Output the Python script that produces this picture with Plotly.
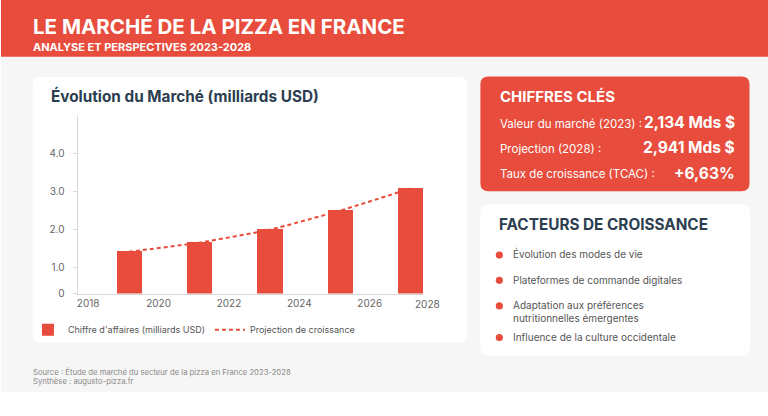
import plotly.graph_objects as go

W, H = 768, 416

# ---------------- data ----------------
years = [2019, 2021, 2023, 2025, 2027]
revenue = [1.42, 1.66, 2.00, 2.50, 3.08]
projection = [1.42, 1.66, 2.00, 2.50, 3.08]
x_tick_years = [2018, 2020, 2022, 2024, 2026, 2028]
y_tick_values = [1, 2, 3, 4]
y_tick_labels = ["1.0", "2.0", "3.0", "4.0"]

key_labels = ["Valeur du marché (2023) :", "Projection (2028) :", "Taux de croissance (TCAC) :"]
key_values = ["2,134 Mds $", "2,941 Mds $", "+6,63%"]
factors = [
    "Évolution des modes de vie",
    "Plateformes de commande digitales",
    "Adaptation aux préférences<br>nutritionnelles émergentes",
    "Influence de la culture occidentale",
]

# ---------------- style ----------------
RED = "#e74c3c"
DARK = "#2c3e50"
FONT = "Inter, Roboto, 'Open Sans', sans-serif"
BG = "#f6f6f6"
VS = 0.988  # vertical calibration of the rendered page


def px(x):
    return x / W


def py(y):
    return 1 - (y / VS) / H


def rrect(x0, y0, x1, y1, r=8):
    rx, ry = r / W, r / H
    X0, X1 = px(x0), px(x1)
    Y0, Y1 = py(y1), py(y0)  # bottom, top in paper coords
    return (f"M{X0+rx},{Y0} L{X1-rx},{Y0} Q{X1},{Y0} {X1},{Y0+ry} "
            f"L{X1},{Y1-ry} Q{X1},{Y1} {X1-rx},{Y1} L{X0+rx},{Y1} "
            f"Q{X0},{Y1} {X0},{Y1-ry} L{X0},{Y0+ry} Q{X0},{Y0} {X0+rx},{Y0} Z")


fig = go.Figure()

fig.add_trace(go.Bar(
    x=years, y=revenue, name="Chiffre d'affaires (milliards USD)",
    marker=dict(color=RED, line=dict(width=0)), width=0.72,
))
fig.add_trace(go.Scatter(
    x=years, y=projection, name="Projection de croissance", mode="lines",
    line=dict(color=RED, width=2, dash="4px,3px", shape="spline", smoothing=0.6),
))

shapes = []
# page background (gray area) and header
shapes.append(dict(type="rect", xref="paper", yref="paper", x0=0, x1=1, y0=py(393), y1=1,
                   fillcolor=BG, line=dict(width=0), layer="below"))
shapes.append(dict(type="rect", xref="paper", yref="paper", x0=0, x1=1, y0=py(57), y1=1,
                   fillcolor=RED, line=dict(width=0), layer="below"))
# cards
shapes.append(dict(type="path", xref="paper", yref="paper", path=rrect(31.7, 77.3, 466.7, 343.3),
                   fillcolor="white", line=dict(width=0), layer="below"))
shapes.append(dict(type="path", xref="paper", yref="paper", path=rrect(480, 76.7, 749.5, 191.7),
                   fillcolor=RED, line=dict(width=0), layer="below"))
shapes.append(dict(type="path", xref="paper", yref="paper", path=rrect(480, 205, 750, 356.7),
                   fillcolor="white", line=dict(width=0), layer="below"))

annotations = []


def text(x, y, s, size, color, anchor="left", bold=False):
    annotations.append(dict(
        x=px(x), y=py(y), xref="paper", yref="paper", text=(f"<b>{s}</b>" if bold else s),
        showarrow=False, xanchor=anchor, yanchor="middle", align="left",
        font=dict(family=FONT, size=size, color=color),
    ))


# header
text(30.5, 27, "LE MARCHÉ DE LA PIZZA EN FRANCE", 20.5, "white", bold=True)
text(30.5, 47, "ANALYSE ET PERSPECTIVES 2023-2028", 11, "white", bold=True)

# chart title
text(48.5, 96, "Évolution du Marché (milliards USD)", 15.3, DARK, bold=True)

# key figures
text(498, 97, "CHIFFRES CLÉS", 15, "white", bold=True)
key_y = [123, 148, 173.5]
for lab, val, yy in zip(key_labels, key_values, key_y):
    text(498, yy + 1, lab, 11.5, "white")
    text(737, yy, val, 15.5, "white", anchor="right", bold=True)

# growth factors
text(497, 225, "FACTEURS DE CROISSANCE", 15.3, DARK, bold=True)
fac_y = [254.5, 280.5, 312.5, 338]
bullet_y = [255.7, 281, 306.7, 338.3]
for f, yy, by in zip(factors, fac_y, bullet_y):
    text(510.5, yy, f, 10, "#555555")
    shapes.append(dict(type="circle", xref="paper", yref="paper",
                       x0=px(499 - 3.6), x1=px(499 + 3.6), y0=py(by + 3.6), y1=py(by - 3.6),
                       fillcolor=RED, line=dict(width=0)))

# footer
text(30.5, 373.3, "Source : Étude de marché du secteur de la pizza en France 2023-2028", 7.7, "#8a8a8a")
text(30.5, 382.8, "Synthèse : augusto-pizza.fr", 7.7, "#8a8a8a")

# last x tick label (sits past the plot edge)
text(426.7, 304.3, str(x_tick_years[-1]), 10, "#666666", anchor="center")

tick_shift = 0.155
fig.update_layout(
    width=W, height=H, autosize=False,
    margin=dict(l=0, r=0, t=0, b=0),
    paper_bgcolor="white", plot_bgcolor="rgba(0,0,0,0)",
    shapes=shapes, annotations=annotations,
    showlegend=True,
    legend=dict(orientation="h", x=px(27), y=py(330.5), xanchor="left", yanchor="middle",
                bgcolor="rgba(0,0,0,0)", entrywidth=137, entrywidthmode="pixels",
                font=dict(family=FONT, size=9, color="#555555"), traceorder="normal"),
    bargap=0,
    xaxis=dict(
        domain=[px(76.7), px(422.6)], range=[2017.545, 2027.36],
        tickvals=[t - tick_shift for t in x_tick_years[:-1]],
        ticktext=[str(t) for t in x_tick_years[:-1]],
        showline=True, linecolor="#d9d9d9", linewidth=1, ticks="", showgrid=False, zeroline=False,
        tickfont=dict(family=FONT, size=10, color="#666666"),
        fixedrange=True,
    ),
    yaxis=dict(
        domain=[py(294.3), py(115.7)], range=[0.322, 5.0],
        tickvals=[0.322] + y_tick_values, ticktext=["0"] + y_tick_labels,
        showline=True, linecolor="#d9d9d9", linewidth=1, ticks="outside", ticklen=4,
        tickcolor="#d9d9d9", showgrid=False, zeroline=False,
        tickfont=dict(family=FONT, size=10, color="#666666"), ticklabelstandoff=6,
        fixedrange=True,
    ),
)

post = (
    "var d=document.documentElement,b=document.body;"
    "d.style.margin='0';d.style.padding='0';b.style.margin='0';b.style.padding='0';"
)
fig.write_html("out.html", config={"displayModeBar": False}, post_script=post)
